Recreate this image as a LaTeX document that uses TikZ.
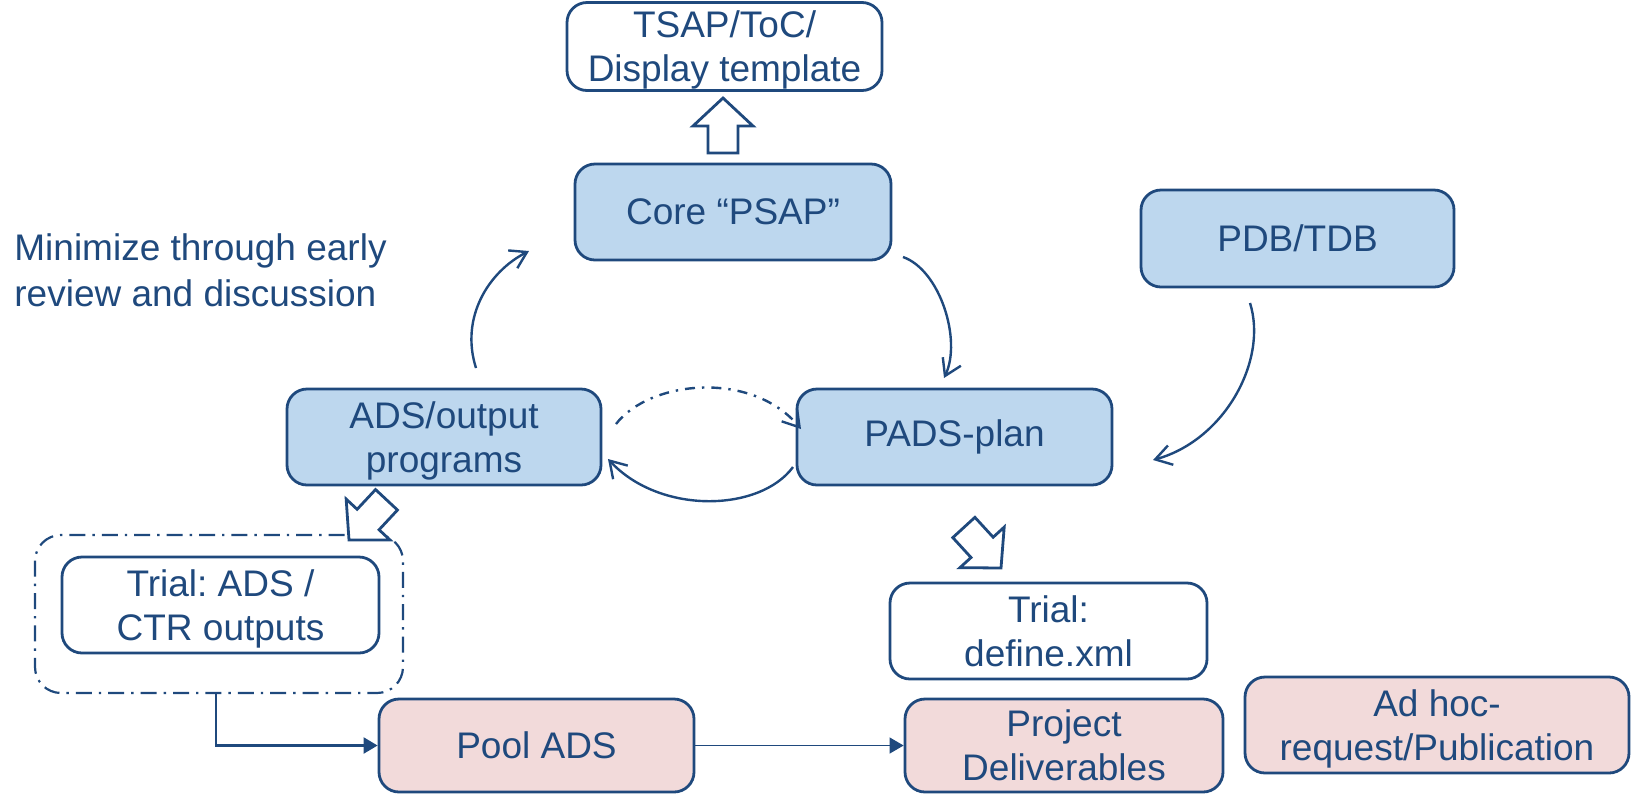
\documentclass[tikz,border=0pt]{standalone}
\usepackage{fontspec}
\setmainfont{Liberation Sans}
\usetikzlibrary{arrows.meta,calc}
\definecolor{dblue}{RGB}{31,73,125}
\definecolor{lblue}{RGB}{189,215,238}
\definecolor{lpink}{RGB}{242,218,218}
\newcommand\twolines[2]{\raisebox{-2.3pt}[\height][\depth]{\begin{tabular}{@{}c@{}}#1\\#2\end{tabular}}}
\tikzset{
  sz/.style 2 args={minimum width=#1*0.5pt, minimum height=#2*0.5pt},
  box/.style={draw=dblue, line width=1.4pt, rounded corners=10pt, text=dblue, align=center,
    font=\fontsize{18.5}{22}\selectfont, inner sep=0pt},
  bluebox/.style={box, fill=lblue},
  pinkbox/.style={box, fill=lpink},
  whitebox/.style={box, fill=white},
  groupbox/.style={draw=dblue, line width=1.1pt, rounded corners=13pt,
    dash pattern=on 8pt off 3.5pt on 1.2pt off 3.5pt},
  flow/.style={draw=dblue, line width=1.2pt, -{Straight Barb[length=8pt,width=10pt]}},
  dflow/.style={flow, dash pattern=on 5pt off 3.5pt on 1.2pt off 3.5pt},
  solidflow/.style={draw=dblue, line width=1.1pt, -{Triangle[length=7pt,width=8pt]}},
  thinflow/.style={draw=dblue, line width=0.6pt, -{Triangle[length=7pt,width=8pt]}},
  blockarrow/.pic={\draw[dblue, line width=1.4pt, fill=white, line join=miter]
    (0,0) -- (-28,30) -- (-28,15) -- (-55,15) -- (-55,-15) -- (-28,-15) -- (-28,-30) -- cycle;},
  note/.style={text=dblue, align=left, inner sep=0pt, font=\fontsize{18.5}{23}\selectfont}
}
\begin{document}
\frenchspacing
\begin{tikzpicture}[x=0.5pt,y=-0.5pt]
\useasboundingbox (0,0) rectangle (1631,794);

% boxes
\node[whitebox, sz={315}{77}] (tsap) at (724.5,46.5) {\twolines{TSAP/ToC/}{Display template}};
\node[bluebox, sz={316}{96}] (core) at (733,212) {Core “PSAP”};
\node[bluebox, sz={313}{97}] (pdb) at (1297.5,238.5) {PDB/TDB};
\node[bluebox, sz={314}{96}] (ads) at (444,437) {\twolines{ADS/output}{programs}};
\node[bluebox, sz={315}{96}] (pads) at (954.5,437) {PADS-plan};
\node[groupbox, sz={368}{158}] (grp) at (219,614) {};
\node[whitebox, sz={317}{96}] (trialads) at (220.5,605) {\twolines{Trial: ADS /}{CTR outputs}};
\node[whitebox, sz={317}{96}] (trialdef) at (1048.5,631) {\twolines{Trial:}{define.xml}};
\node[pinkbox, sz={315}{93}] (pool) at (536.5,745.5) {Pool ADS};
\node[pinkbox, sz={318}{93}] (proj) at (1064,745.5) {\twolines{Project}{Deliverables}};
\node[pinkbox, sz={384}{96}] (adhoc) at (1437,725) {\twolines{Ad hoc-}{request/Publication}};

\node[note, anchor=north west] (minnote) at (14,233) {Minimize through early\\review and discussion};

% block arrows
\pic[rotate=90] at (723,98) {blockarrow};
\pic[rotate=227] at (349,540) {blockarrow};
\pic[rotate=-47.5] at (1001,568) {blockarrow};

% curved connectors
\coordinate (a1s) at (476,368); \coordinate (a1e) at (529,251);
\draw[flow] (a1s) .. controls (460,318) and (488,272) .. (a1e);

\coordinate (a2s) at (903,257); \coordinate (a2e) at (944,378);
\draw[flow] (a2s) .. controls (940,270) and (962,340) .. (a2e);

\coordinate (a3s) at (1250,303); \coordinate (a3e) at (1153,460);
\draw[flow] (a3s) .. controls (1268,360) and (1225,440) .. (a3e);

\coordinate (a4s) at (616,424); \coordinate (a4e) at (801,429);
\draw[dflow] (a4s) .. controls (650,380) and (752,370) .. (a4e);

\coordinate (a5s) at (793,467); \coordinate (a5e) at (608,459);
\draw[flow] (a5s) .. controls (760,512) and (660,515) .. (a5e);

% straight connectors
\draw[solidflow] ($(grp.south)+(-3,0)$) |- (pool.west);
\draw[thinflow] (pool.east) -- (proj.west);
\end{tikzpicture}
\end{document}
